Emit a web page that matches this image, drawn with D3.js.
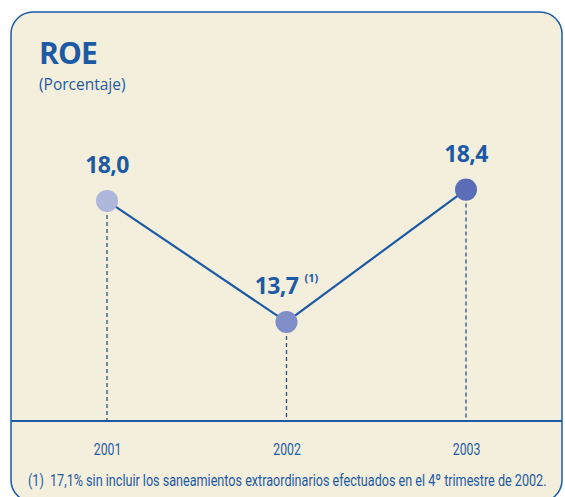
<!DOCTYPE html>
<html><head><meta charset="utf-8">
<script src="https://cdn.jsdelivr.net/npm/d3@7"></script>
<style>body{margin:0;background:#fff}svg{display:block}</style>
</head><body>
<script>
const years = ["2001","2002","2003"];
const roe = [18.0, 13.7, 18.4];
const valueLabels = ["18,0","13,7","18,4"];
const notes = ["", "(1)", ""];
const pointColors = ["#aeb6dc","#7f8dc9","#5a6db6"];
const title = "ROE";
const subtitle = "(Porcentaje)";
const footnote = "(1)\u00a0\u00a017,1% sin incluir los saneamientos extraordinarios efectuados en el 4º trimestre de 2002.";

const W = 565, H = 497;
const blue = "#1d5aa5";
const svg = d3.select("body").append("svg").attr("width", W).attr("height", H);

svg.append("rect").attr("x", 11).attr("y", 12).attr("width", 551).attr("height", 490)
  .attr("rx", 22).attr("ry", 22).attr("fill", "#f3efdc").attr("stroke", blue).attr("stroke-width", 1.5);

svg.append("text").attr("x", 39).attr("y", 64).text(title)
  .attr("font-family", "Open Sans, sans-serif").attr("font-weight", 700).attr("font-size", 30)
  .attr("fill", blue).attr("letter-spacing", -0.8);
svg.append("text").attr("x", 39).attr("y", 90).text(subtitle)
  .attr("font-family", "Open Sans, sans-serif").attr("font-size", 15.5).attr("fill", blue);

const x = d3.scalePoint().domain(years).range([107, 466]);
const y = d3.scaleLinear().domain([10, 20]).range([426, 144.6]);
const axisY = 421;

// axis
const axisG = svg.append("g").attr("transform", `translate(0,${axisY})`)
  .call(d3.axisBottom(x).tickSize(0).tickPadding(22));
axisG.select(".domain").remove();
axisG.selectAll("text").attr("font-family", "Roboto, Open Sans, sans-serif")
  .attr("font-size", 17).attr("fill", blue).attr("transform", "scale(0.72,1)");
svg.append("line").attr("x1", 11).attr("x2", 562).attr("y1", axisY).attr("y2", axisY)
  .attr("stroke", blue).attr("stroke-width", 2);

// dashed drops
svg.selectAll(".drop").data(years).join("line")
  .attr("x1", d => x(d)).attr("x2", d => x(d))
  .attr("y1", (d, i) => y(roe[i])).attr("y2", axisY - 1)
  .attr("stroke", "#2a4f8c").attr("stroke-width", 1.3).attr("stroke-dasharray", "4,3");

// line
const line = d3.line().x((d, i) => x(years[i])).y(d => y(d));
svg.append("path").datum(roe).attr("d", line).attr("fill", "none")
  .attr("stroke", blue).attr("stroke-width", 2.2);

svg.selectAll(".pt").data(roe).join("circle")
  .attr("cx", (d, i) => x(years[i])).attr("cy", d => y(d)).attr("r", 11)
  .attr("fill", (d, i) => pointColors[i]);

// value labels
svg.selectAll(".lbl").data(roe).join("text")
  .attr("x", (d, i) => x(years[i]) - (notes[i] ? 10 : 0))
  .attr("y", (d, i) => y(d) - 28)
  .attr("text-anchor", "middle")
  .attr("font-family", "Open Sans, sans-serif").attr("font-weight", 700).attr("font-size", 23)
  .attr("letter-spacing", -0.6)
  .attr("fill", blue).text((d, i) => valueLabels[i]);
svg.selectAll(".note").data(roe).join("text")
  .attr("x", (d, i) => x(years[i]) + 18)
  .attr("y", (d, i) => y(d) - 40)
  .attr("font-family", "Open Sans, sans-serif").attr("font-weight", 700).attr("font-size", 11)
  .attr("fill", blue).text((d, i) => notes[i]);

const fn = svg.append("text").attr("x", 0).attr("y", 0).text(footnote)
  .attr("font-family", "Roboto, Open Sans, sans-serif")
  .attr("font-size", 17).attr("fill", blue);
const natural = fn.node().getComputedTextLength();
const sx = 519 / natural;
fn.attr("transform", `translate(28,486) scale(${sx},1)`);
</script>
</body></html>
